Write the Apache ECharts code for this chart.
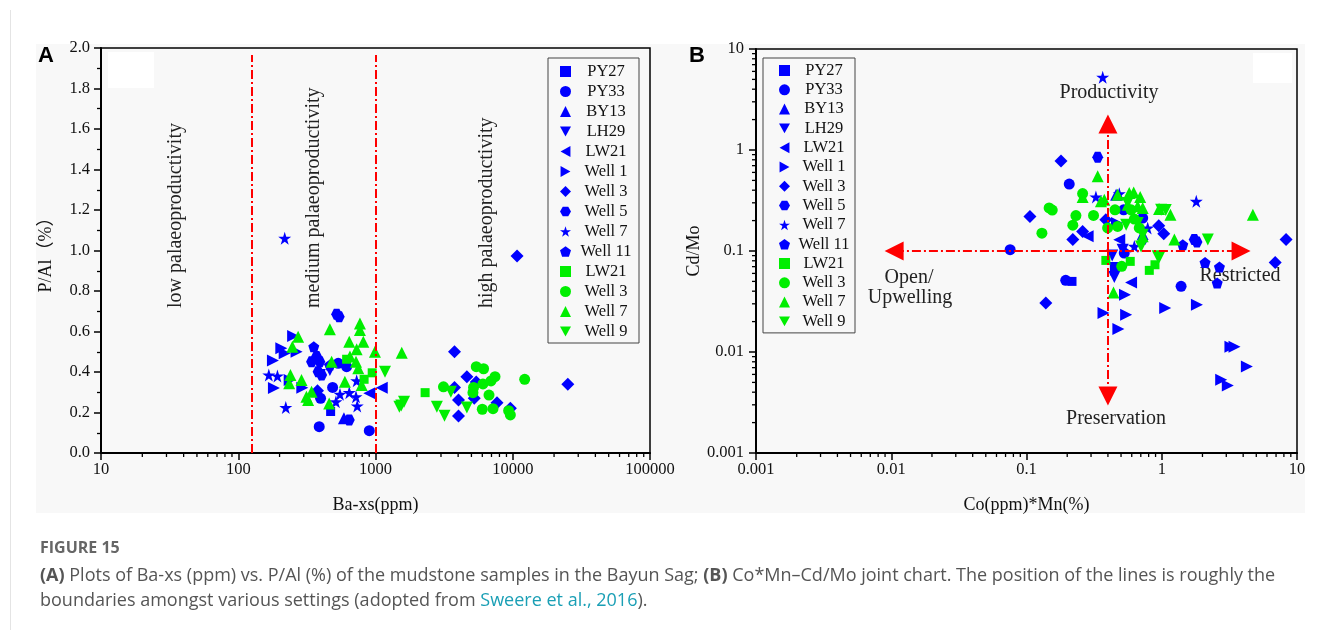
<!DOCTYPE html>
<html>
<head>
<meta charset="utf-8">
<title>Figure 15</title>
<script src="https://cdn.jsdelivr.net/npm/echarts@6/dist/echarts.min.js"></script>
<style>
  html, body { margin: 0; padding: 0; background: #fff; }
  #chart { width: 1320px; height: 630px; }
</style>
</head>
<body>
<div id="chart"></div>
<script>
// ---------- Panel A: Ba-xs (ppm) vs P/Al (%) ----------
const aPY27   = [[471, 0.205]];
const aPY33   = [[389, 0.13], [901, 0.11], [398, 0.27], [535, 0.443], [487, 0.324], [616, 0.426]];
const aBY13   = [[589, 0.171]];
const aLH29   = [[465, 0.41], [393, 0.385]];
const aLW21   = [[1110, 0.322], [901, 0.295]];
const aWell1  = [[251, 0.578], [206, 0.517], [218, 0.492], [266, 0.50], [179, 0.457], [182, 0.321], [293, 0.322], [237, 0.36]];
const aWell3  = [[10750, 0.973], [3764, 0.50], [4634, 0.377], [3764, 0.324], [4026, 0.262], [4026, 0.183], [5243, 0.27], [5423, 0.351], [7679, 0.248], [9605, 0.221], [25180, 0.339], [378, 0.308]];
const aWell5  = [[521, 0.685], [544, 0.673], [342, 0.451], [372, 0.476], [393, 0.451], [382, 0.401], [405, 0.385], [644, 0.163]];
const aWell7  = [[218, 1.06], [167, 0.385], [193, 0.38], [222, 0.225], [729, 0.357], [551, 0.29], [644, 0.298], [721, 0.278], [515, 0.253], [736, 0.232]];
const aWell11 = [[355, 0.525], [465, 0.435]];
const aLW21g  = [[2299, 0.298], [946, 0.396], [826, 0.364], [616, 0.463]];
const aWell3g = [[3128, 0.327], [5423, 0.426], [6130, 0.416], [5180, 0.324], [5129, 0.298], [6067, 0.341], [6714, 0.286], [6941, 0.356], [7427, 0.377], [5998, 0.216], [7181, 0.219], [9333, 0.209], [9605, 0.188], [12218, 0.364]];
const aWell7g = [[273, 0.574], [248, 0.525], [465, 0.611], [770, 0.64], [770, 0.607], [644, 0.55], [815, 0.55], [729, 0.512], [991, 0.50], [651, 0.476], [721, 0.451], [749, 0.418], [479, 0.451], [240, 0.385], [235, 0.344], [289, 0.36], [598, 0.352], [793, 0.336], [342, 0.303], [314, 0.278], [323, 0.262], [460, 0.245], [1553, 0.495]];
const aWell9g = [[1173, 0.401], [1493, 0.229], [1614, 0.253], [1540, 0.235], [2800, 0.229], [3181, 0.184], [3541, 0.303], [4634, 0.225]];

// ---------- Panel B: Co(ppm)*Mn(%) vs Cd/Mo ----------
const bPY27   = [[0.217, 0.05]];
const bPY33   = [[0.0757, 0.103], [0.195, 0.0512], [0.207, 0.46], [0.523, 0.256], [0.723, 0.212], [0.528, 0.0955], [1.39, 0.0447]];
const bBY13   = [[0.46, 0.36]];
const bLH29   = [[0.514, 0.103], [0.446, 0.0553], [0.446, 0.0679], [0.43, 0.09]];
const bLW21   = [[0.593, 0.0489], [0.283, 0.14], [0.485, 0.129]];
const bWell1  = [[0.458, 0.0653], [0.535, 0.0369], [0.371, 0.0243], [0.545, 0.0234], [0.478, 0.0169], [1.06, 0.0273], [1.82, 0.0294], [3.22, 0.0113], [3.45, 0.0113], [4.26, 0.0072], [2.75, 0.0053], [3.08, 0.00467], [0.467, 0.189]];
const bWell3  = [[0.18, 0.78], [0.106, 0.22], [0.26, 0.156], [0.22, 0.13], [0.139, 0.0305], [0.386, 0.204], [0.95, 0.178], [1.035, 0.148], [8.3, 0.13], [6.9, 0.077]];
const bWell5  = [[0.336, 0.85], [1.74, 0.13], [1.82, 0.123], [0.723, 0.131]];
const bWell7  = [[0.366, 5.24], [0.326, 0.343], [1.80, 0.31], [0.787, 0.169], [0.627, 0.111], [0.485, 0.369]];
const bWell11 = [[1.43, 0.115], [2.09, 0.077], [2.67, 0.0695], [2.57, 0.0482]];
const bLW21g  = [[0.386, 0.0807], [0.585, 0.0789], [0.809, 0.0643], [0.891, 0.0731]];
const bWell3g = [[0.26, 0.37], [0.147, 0.267], [0.155, 0.254], [0.232, 0.224], [0.313, 0.225], [0.22, 0.18], [0.13, 0.15], [0.451, 0.256], [0.593, 0.256], [0.627, 0.207], [0.472, 0.175], [0.398, 0.169], [0.682, 0.169], [0.506, 0.0705]];
const bWell7g = [[0.336, 0.55], [0.26, 0.343], [0.376, 0.322], [0.472, 0.361], [0.575, 0.375], [0.62, 0.38], [0.693, 0.343], [0.56, 0.287], [0.664, 0.277], [0.723, 0.267], [0.355, 0.31], [0.955, 0.26], [1.16, 0.229], [1.24, 0.13], [4.72, 0.229], [0.723, 0.14], [0.44, 0.0389]];
const bWell9g = [[0.56, 0.299], [0.545, 0.182], [0.664, 0.189], [0.723, 0.145], [0.703, 0.111], [0.933, 0.0885], [0.989, 0.256], [1.07, 0.254], [2.19, 0.13], [0.96, 0.0873]];

// Boundaries and arrows
const baBoundaries = [125, 1000];      // low | medium | high palaeoproductivity
const boundaryTop = 1.965;             // P/Al where the boundary lines stop
const arrowOrigin = [0.4, 0.1];        // crossing of the two arrows in panel B
const arrowEnds = [[0.0105, 0.1], [3.86, 0.1], [0.4, 1.81], [0.4, 0.00366]];

// Axis decades (major ticks); minor ticks sit at 2..9 within each
const decadesA = [10, 100, 1000, 10000];
const decadesB = [0.001, 0.01, 0.1, 1];

const SERIF = '"Liberation Serif","Times New Roman",serif';
const SANS = '"Open Sans","Noto Sans",sans-serif';
const BLUE = '#0000ff';
const GREEN = '#00ee00';

const SYM = {
  square: 'rect',
  circle: 'circle',
  up: 'triangle',
  down: 'path://M0,0L10,0L5,9Z',
  left: 'path://M9,0L9,10L0,5Z',
  right: 'path://M0,0L0,10L9,5Z',
  diamond: 'diamond',
  hexagon: 'path://M2.5,0L7.5,0L10,4.33L7.5,8.66L2.5,8.66L0,4.33Z',
  star: 'path://M5,0L6.18,3.62L10,3.62L6.91,5.86L8.09,9.51L5,7.27L1.91,9.51L3.09,5.86L0,3.62L3.82,3.62Z',
  pentagon: 'path://M5,0L10,3.63L8.09,9.51L1.91,9.51L0,3.63Z'
};

// Legend order; the green groups carry a trailing space so their names stay unique
const groups = [
  { name: 'PY27',    color: BLUE,  symbol: SYM.square,   size: 9,  a: aPY27,   b: bPY27 },
  { name: 'PY33',    color: BLUE,  symbol: SYM.circle,   size: 11, a: aPY33,   b: bPY33 },
  { name: 'BY13',    color: BLUE,  symbol: SYM.up,       size: 12, a: aBY13,   b: bBY13 },
  { name: 'LH29',    color: BLUE,  symbol: SYM.down,     size: 12, a: aLH29,   b: bLH29 },
  { name: 'LW21',    color: BLUE,  symbol: SYM.left,     size: 12, a: aLW21,   b: bLW21 },
  { name: 'Well 1',  color: BLUE,  symbol: SYM.right,    size: 12, a: aWell1,  b: bWell1 },
  { name: 'Well 3',  color: BLUE,  symbol: SYM.diamond,  size: 13, a: aWell3,  b: bWell3 },
  { name: 'Well 5',  color: BLUE,  symbol: SYM.hexagon,  size: 11, a: aWell5,  b: bWell5 },
  { name: 'Well 7',  color: BLUE,  symbol: SYM.star,     size: 13, a: aWell7,  b: bWell7 },
  { name: 'Well 11', color: BLUE,  symbol: SYM.pentagon, size: 11, a: aWell11, b: bWell11 },
  { name: 'LW21 ',   color: GREEN, symbol: SYM.square,   size: 9,  a: aLW21g,  b: bLW21g },
  { name: 'Well 3 ', color: GREEN, symbol: SYM.circle,   size: 11, a: aWell3g, b: bWell3g },
  { name: 'Well 7 ', color: GREEN, symbol: SYM.up,       size: 12, a: aWell7g, b: bWell7g },
  { name: 'Well 9',  color: GREEN, symbol: SYM.down,     size: 12, a: aWell9g, b: bWell9g }
];

function minorOf(decades) {
  const out = [];
  decades.forEach(d => { for (let k = 2; k <= 9; k++) out.push(+(d * k).toPrecision(6)); });
  return out;
}

const chart = echarts.init(document.getElementById('chart'), null, { renderer: 'canvas' });

const tickLabel = { fontFamily: SERIF, fontSize: 16.5, color: '#111' };
const nameStyle = { fontFamily: SERIF, fontSize: 18, color: '#111' };
const axisLineStyle = { color: '#000', width: 2 };

// short minor ticks on the log axes, placed through the axis scales
function minorTickSeries(gridIdx, values, along) {
  return {
    type: 'custom', xAxisIndex: gridIdx, yAxisIndex: gridIdx, silent: true, clip: false, z: 5,
    data: values.map(v => along === 'x' ? [v, gridIdx === 0 ? 0 : 0.001] : [0.001, v]),
    renderItem: function (params, api) {
      const p = api.coord([api.value(0), api.value(1)]);
      const shape = along === 'x'
        ? { x1: p[0], y1: p[1], x2: p[0], y2: p[1] + 4 }
        : { x1: p[0] - 4, y1: p[1], x2: p[0], y2: p[1] };
      return { type: 'line', shape: shape, style: { stroke: '#000', lineWidth: 1.3 } };
    }
  };
}

const series = [];
groups.forEach(g => {
  [0, 1].forEach(i => {
    series.push({
      type: 'scatter', name: g.name, xAxisIndex: i, yAxisIndex: i,
      data: i === 0 ? g.a : g.b,
      symbol: g.symbol, symbolSize: g.size,
      itemStyle: { color: g.color, opacity: 1 },
      silent: true, z: 3
    });
  });
});

// red dash-dot boundaries in panel A
series.push({
  type: 'scatter', name: 'boundaries', xAxisIndex: 0, yAxisIndex: 0, data: [], silent: true,
  markLine: {
    silent: true, symbol: 'none', animation: false,
    label: { show: false },
    lineStyle: { color: '#ff0000', width: 2, type: [9, 3, 2, 3] },
    data: baBoundaries.map(v => [{ coord: [v, 0] }, { coord: [v, boundaryTop] }])
  }
});

// red arrows in panel B
series.push({
  type: 'scatter', name: 'arrows', xAxisIndex: 1, yAxisIndex: 1, data: [], silent: true,
  markLine: {
    silent: true, symbol: ['none', 'triangle'], symbolSize: 19, animation: false,
    label: { show: false },
    lineStyle: { color: '#ff0000', width: 2, type: [9, 3, 2, 3], opacity: 1 },
    itemStyle: { color: '#ff0000' },
    data: arrowEnds.map(e => [{ coord: arrowOrigin }, { coord: e }])
  }
});

series.push(minorTickSeries(0, minorOf(decadesA), 'x'));
series.push(minorTickSeries(1, minorOf(decadesB), 'x'));
series.push(minorTickSeries(1, minorOf(decadesB), 'y'));

const legendBase = {
  orient: 'vertical', selectedMode: false, show: true,
  data: groups.map(g => g.name),
  itemWidth: 11, itemHeight: 11,
  borderColor: '#444', borderWidth: 1, backgroundColor: '#f8f8f8',
  formatter: n => '{t|' + n.trim() + '}'
};

const option = {
  animation: false,
  backgroundColor: '#ffffff',
  grid: [
    { left: 101, top: 48, width: 549, height: 405, show: true, borderColor: '#000', borderWidth: 1.5, backgroundColor: 'transparent' },
    { left: 756, top: 49, width: 541, height: 404, show: true, borderColor: '#000', borderWidth: 1.5, backgroundColor: 'transparent' }
  ],
  xAxis: [
    {
      gridIndex: 0, type: 'log', logBase: 10, min: 10, max: 100000,
      axisLine: { lineStyle: axisLineStyle }, splitLine: { show: false },
      axisTick: { length: 7, lineStyle: { color: '#000', width: 1.5 } },
      axisLabel: Object.assign({ margin: 8, formatter: v => String(Math.round(v)) }, tickLabel),
      name: 'Ba-xs(ppm)', nameLocation: 'middle', nameGap: 43, nameTextStyle: nameStyle
    },
    {
      gridIndex: 1, type: 'log', logBase: 10, min: 0.001, max: 10,
      axisLine: { lineStyle: axisLineStyle }, splitLine: { show: false },
      axisTick: { length: 7, lineStyle: { color: '#000', width: 1.5 } },
      axisLabel: Object.assign({ margin: 8, formatter: v => String(Number(v.toPrecision(6))) }, tickLabel),
      name: 'Co(ppm)*Mn(%)', nameLocation: 'middle', nameGap: 43, nameTextStyle: nameStyle
    }
  ],
  yAxis: [
    {
      gridIndex: 0, type: 'value', min: 0, max: 2, interval: 0.2,
      axisLine: { show: true, lineStyle: axisLineStyle }, splitLine: { show: false },
      axisTick: { show: true, length: 7, lineStyle: { color: '#000', width: 1.5 } },
      minorTick: { show: true, splitNumber: 2, length: 4, lineStyle: { color: '#000', width: 1.3 } },
      axisLabel: Object.assign({ margin: 11, formatter: v => v.toFixed(1) }, tickLabel),
      name: 'P/Al（%）', nameLocation: 'middle', nameGap: 46,
      nameTextStyle: Object.assign({}, nameStyle, { fontFamily: SERIF + ',"Noto Sans CJK SC"' })
    },
    {
      gridIndex: 1, type: 'log', logBase: 10, min: 0.001, max: 10,
      axisLine: { show: true, lineStyle: axisLineStyle }, splitLine: { show: false },
      axisTick: { show: true, length: 7, lineStyle: { color: '#000', width: 1.5 } },
      axisLabel: Object.assign({ margin: 12, formatter: v => String(Number(v.toPrecision(6))) }, tickLabel),
      name: 'Cd/Mo', nameLocation: 'middle', nameGap: 52, nameTextStyle: nameStyle
    }
  ],
  legend: [
    Object.assign({}, legendBase, {
      left: 548, top: 58, padding: [5, 3, 3, 12], itemGap: 3,
      textStyle: { rich: { t: { width: 60, align: 'center', fontFamily: SERIF, fontSize: 16.5, lineHeight: 16, color: '#111' } } }
    }),
    Object.assign({}, legendBase, {
      left: 763, top: 58, padding: [4, 2, 3, 16], itemGap: 2.3,
      textStyle: { rich: { t: { width: 58, align: 'center', fontFamily: SERIF, fontSize: 16.5, lineHeight: 16, color: '#111' } } }
    })
  ],
  series: series,
  graphic: [
    // page frame and figure background
    { type: 'line', z: -200, silent: true, shape: { x1: 10.5, y1: 10, x2: 10.5, y2: 630 }, style: { stroke: '#e4e4e4', lineWidth: 1 } },
    { type: 'rect', z: -100, silent: true, shape: { x: 36, y: 44, width: 1269, height: 469 }, style: { fill: '#f8f8f8' } },
    { type: 'rect', z: -50, silent: true, shape: { x: 108, y: 52, width: 46, height: 36 }, style: { fill: '#ffffff' } },
    { type: 'rect', z: -50, silent: true, shape: { x: 1253, y: 53, width: 39, height: 30 }, style: { fill: '#ffffff' } },
    // panel letters
    { type: 'text', x: 46, y: 56, style: { text: 'A', fontFamily: '"Liberation Sans",Arial,sans-serif', fontWeight: 'bold', fontSize: 22, fill: '#000', textAlign: 'center', textVerticalAlign: 'middle' } },
    { type: 'text', x: 697, y: 56, style: { text: 'B', fontFamily: '"Liberation Sans",Arial,sans-serif', fontWeight: 'bold', fontSize: 22, fill: '#000', textAlign: 'center', textVerticalAlign: 'middle' } },
    // panel A region names
    { type: 'text', x: 176, y: 308, rotation: Math.PI / 2, style: { text: 'low palaeoproductivity', fontFamily: SERIF, fontSize: 20, fill: '#222', textAlign: 'left', textVerticalAlign: 'middle' } },
    { type: 'text', x: 314, y: 308, rotation: Math.PI / 2, style: { text: 'medium palaeoproductivity', fontFamily: SERIF, fontSize: 20, fill: '#222', textAlign: 'left', textVerticalAlign: 'middle' } },
    { type: 'text', x: 487, y: 308, rotation: Math.PI / 2, style: { text: 'high palaeoproductivity', fontFamily: SERIF, fontSize: 20, fill: '#222', textAlign: 'left', textVerticalAlign: 'middle' } },
    // panel B setting names
    { type: 'text', x: 1109, y: 93, style: { text: 'Productivity', fontFamily: SERIF, fontSize: 20, fill: '#222', textAlign: 'center', textVerticalAlign: 'middle' } },
    { type: 'text', x: 1116, y: 419, style: { text: 'Preservation', fontFamily: SERIF, fontSize: 20, fill: '#222', textAlign: 'center', textVerticalAlign: 'middle' } },
    { type: 'text', x: 909, y: 278, style: { text: 'Open/', fontFamily: SERIF, fontSize: 20, fill: '#222', textAlign: 'center', textVerticalAlign: 'middle' } },
    { type: 'text', x: 910, y: 298, style: { text: 'Upwelling', fontFamily: SERIF, fontSize: 20, fill: '#222', textAlign: 'center', textVerticalAlign: 'middle' } },
    { type: 'text', x: 1240, y: 276, style: { text: 'Restricted', fontFamily: SERIF, fontSize: 20, fill: '#222', textAlign: 'center', textVerticalAlign: 'middle' } },
    // caption
    { type: 'text', x: 40, y: 548, style: { text: 'FIGURE 15', fontFamily: SANS, fontWeight: 'bold', fontSize: 16, fill: '#666', textVerticalAlign: 'middle' } },
    { type: 'text', x: 40, y: 576, style: {
        text: '{b|(A)} Plots of Ba-xs (ppm) vs. P/Al (%) of the mudstone samples in the Bayun Sag; {b|(B)} Co*Mn–Cd/Mo joint chart. The position of the lines is roughly the',
        fontFamily: SANS, fontSize: 18, fill: '#555', textVerticalAlign: 'middle',
        rich: { b: { fontWeight: 'bold', fontFamily: SANS, fontSize: 18, fill: '#555' } } } },
    { type: 'text', x: 40, y: 601, style: {
        text: 'boundaries amongst various settings (adopted from {l|Sweere et al., 2016}).',
        fontFamily: SANS, fontSize: 18, fill: '#555', textVerticalAlign: 'middle',
        rich: { l: { fontFamily: SANS, fontSize: 18, fill: '#1a9fb5' } } } }
  ]
};

chart.setOption(option);
</script>
</body>
</html>
